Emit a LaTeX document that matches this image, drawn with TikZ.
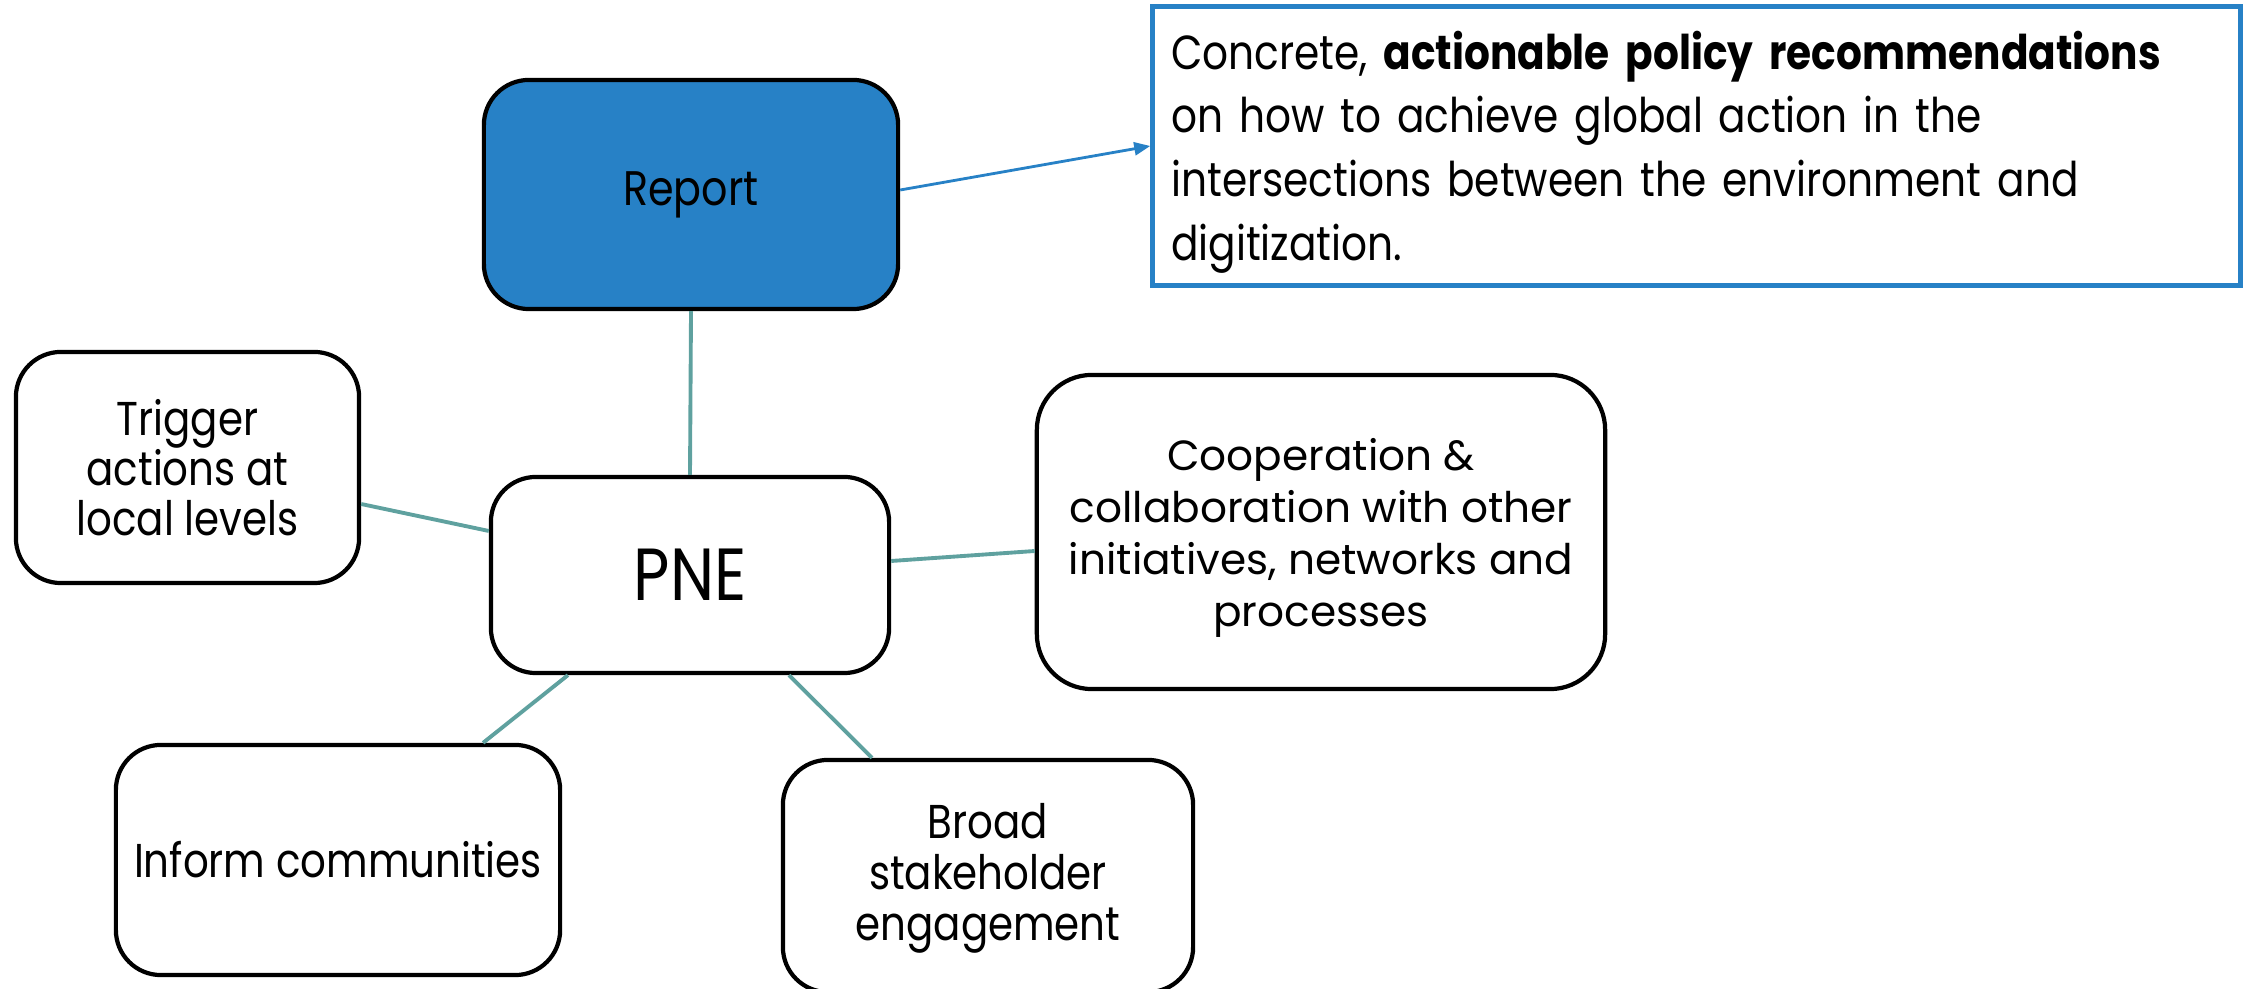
\documentclass[tikz,border=0pt]{standalone}
\usepackage{fontspec}
\usetikzlibrary{arrows.meta}
\newfontfamily\twcen[FakeStretch=0.85]{Poppins}
\newfontfamily\gothic{Poppins}
\definecolor{repblue}{HTML}{2781C6}
\definecolor{teal2}{HTML}{5FA19F}
\tikzset{
  rbox/.style={draw=black, line width=1.2pt, rounded corners=0.45cm, align=center, inner sep=0pt},
  tw/.style={font=\twcen\fontsize{13.5}{14.2}\selectfont},
  conn/.style={draw=teal2, line width=1.1pt},
}
\begin{document}
\begin{tikzpicture}[x=0.01cm,y=-0.01cm]
\useasboundingbox (0,0) rectangle (2245,989);
\node[rbox, fill=repblue, minimum width=4.14cm, minimum height=2.29cm, font=\twcen\fontsize{13.8}{14.2}\selectfont] (report) at (691,194.5) {Report};
\node[draw=repblue, line width=1.4pt, minimum width=10.87cm, minimum height=2.78cm, inner sep=0pt] (rec) at (1696.5,146) {};
\node[align=left, text width=10.5cm, inner sep=0pt, anchor=center,
  font=\twcen\fontsize{13.6}{18.1}\selectfont] (rectext) at ([yshift=-0.06cm]rec.center)
  {Concrete, \textbf{actionable policy recommendations}\\on how to achieve global action in the\\intersections between the environment and\\digitization.};
\node[rbox, minimum width=3.43cm, minimum height=2.31cm, tw] (trigger) at (187.5,467.5) {Trigger\\actions at\\local levels};
\node[rbox, minimum width=3.98cm, minimum height=1.96cm, font=\twcen\fontsize{21}{24}\selectfont] (pne) at (690,575) {PNE};
\node[rbox, rounded corners=0.55cm, minimum width=5.68cm, minimum height=3.14cm, font=\gothic\fontsize{12}{14.8}\selectfont] (coop) at (1321,532)
  {\rule{0pt}{0.44cm}Cooperation \&\\collaboration with other\\initiatives, networks and\\processes};
\node[rbox, minimum width=4.44cm, minimum height=2.30cm, tw] (inform) at (338,860) {Inform communities};
\node[rbox, minimum width=4.10cm, minimum height=2.32cm, font=\twcen\fontsize{13.5}{14.6}\selectfont] (broad) at (988,876) {\rule{0pt}{0.4cm}Broad\\stakeholder\\engagement};
\draw[repblue, line width=0.8pt, -{Triangle[length=0.16cm,width=0.13cm]}] ([yshift=0.045cm]report.east) -- (rec.west);
\draw[conn] (report.south) -- (pne.north);
\draw[conn] ([yshift=-0.365cm]trigger.east) -- ([yshift=0.44cm]pne.west);
\draw[conn] ([yshift=0.14cm]pne.east) -- ([yshift=-0.19cm]coop.west);
\draw[conn] ([xshift=-1.22cm]pne.south) -- ([xshift=1.45cm]inform.north);
\draw[conn] ([xshift=0.99cm]pne.south) -- ([xshift=-1.16cm]broad.north);
\end{tikzpicture}
\end{document}
